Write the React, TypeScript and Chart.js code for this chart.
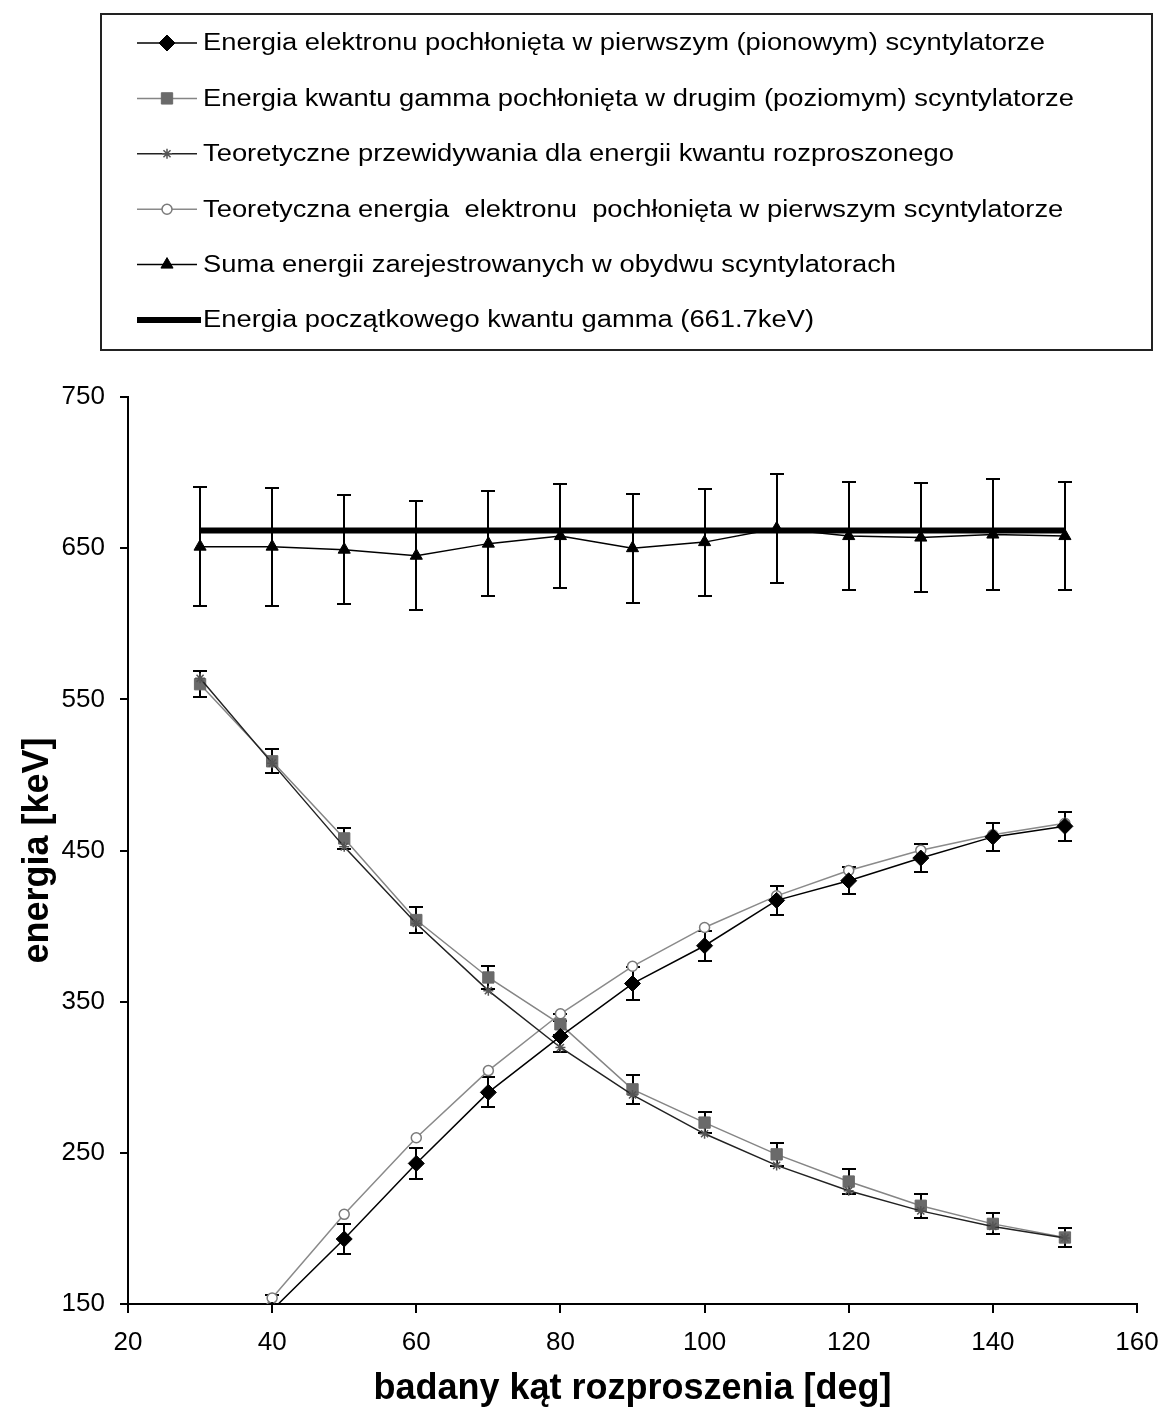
import React, { useEffect, useRef } from 'react';
import { Chart, registerables } from 'chart.js';
import { drawPoint } from 'chart.js/helpers';

Chart.register(...registerables);

// ---- data ----
const angles = [30, 40, 50, 60, 70, 80, 90, 100, 110, 120, 130, 140, 150];
const electronMeasured = [98, 146, 193, 243, 290, 327, 362, 387, 417, 430, 445, 459, 466];
const electronErr = [10, 10, 10, 10, 10, 10, 11, 10, 9.5, 9, 9.5, 9.5, 9.5];
const gammaMeasured = [560, 509, 458, 404, 366, 335, 292, 270, 249, 231, 215, 203, 194];
const gammaErr = [8.5, 8, 7, 8.5, 7.5, 7, 9.5, 7, 7.5, 8, 8, 7, 6.5];
const gammaTheory = [563.9, 507.8, 452.4, 401.7, 357.3, 319.7, 288.3, 262.6, 241.7, 224.9, 211.6, 201.3, 193.7];
const electronTheory = [97.8, 153.9, 209.3, 260.0, 304.4, 342.0, 373.4, 399.1, 420.0, 436.8, 450.1, 460.4, 468.0];
const sumMeasured = [651, 651, 649, 645, 653, 658, 650, 654, 663, 658, 657, 659, 658];
const sumErr = [39.5, 39, 36, 36, 34.6, 34.5, 36, 35.4, 36, 36, 36, 36.6, 36];
const initialEnergy = [661.7, 661.7, 661.7, 661.7, 661.7, 661.7, 661.7, 661.7, 661.7, 661.7, 661.7, 661.7, 661.7];

const legendLabels = [
  'Energia elektronu pochłonięta w pierwszym (pionowym) scyntylatorze',
  'Energia kwantu gamma pochłonięta w drugim (poziomym) scyntylatorze',
  'Teoretyczne przewidywania dla energii kwantu rozproszonego',
  'Teoretyczna energia  elektronu  pochłonięta w pierwszym scyntylatorze',
  'Suma energii zarejestrowanych w obydwu scyntylatorach',
  'Energia początkowego kwantu gamma (661.7keV)',
];
const xTitle = 'badany kąt rozproszenia [deg]';
const yTitle = 'energia [keV]';
const xMin = 20, xMax = 160, xStep = 20;
const yMin = 150, yMax = 750, yStep = 100;

const FONT = '"Liberation Sans", Arial, sans-serif';

const pts = (vals: number[]) => angles.map((a, i) => ({ x: a, y: vals[i] }));

const errorBarPlugin = {
  id: 'errorBars',
  beforeDatasetsDraw(chart: any) {
    const { ctx, chartArea, scales } = chart;
    const xs = scales.x, ys = scales.y;
    ctx.save();
    ctx.beginPath();
    ctx.rect(chartArea.left, chartArea.top, chartArea.right - chartArea.left, chartArea.bottom - chartArea.top);
    ctx.clip();
    ctx.strokeStyle = '#000';
    ctx.lineWidth = 2;
    chart.data.datasets.forEach((ds: any) => {
      const errs = ds.errorBars;
      if (!errs) return;
      ds.data.forEach((p: any, i: number) => {
        const px = Math.round(xs.getPixelForValue(p.x));
        const yt = Math.round(ys.getPixelForValue(p.y + errs[i]));
        const yb = Math.round(ys.getPixelForValue(p.y - errs[i]));
        ctx.beginPath();
        ctx.moveTo(px, yt); ctx.lineTo(px, yb);
        ctx.moveTo(px - 7, yt); ctx.lineTo(px + 7, yt);
        ctx.moveTo(px - 7, yb); ctx.lineTo(px + 7, yb);
        ctx.stroke();
      });
    });
    ctx.restore();
  },
};

const boxLegendPlugin = {
  id: 'boxLegend',
  afterDraw(chart: any) {
    const ctx = chart.ctx;
    ctx.save();
    ctx.strokeStyle = '#222';
    ctx.lineWidth = 2;
    ctx.strokeRect(101, 14, 1051, 336);
    ctx.font = `23px ${FONT}`;
    ctx.textBaseline = 'middle';
    ctx.fillStyle = '#000';
    const w0 = ctx.measureText(legendLabels[0]).width;
    const sx = 842 / w0;
    chart.data.datasets.forEach((ds: any, i: number) => {
      const cy = 43 + i * 55.4;
      ctx.beginPath();
      ctx.strokeStyle = ds.borderColor;
      ctx.lineWidth = ds.borderWidth;
      ctx.moveTo(137, cy);
      ctx.lineTo(ds.pointRadius > 0 ? 197 : 201, cy);
      ctx.stroke();
      if (ds.pointRadius > 0) {
        ctx.fillStyle = ds.pointBackgroundColor;
        ctx.strokeStyle = ds.pointBorderColor;
        ctx.lineWidth = ds.pointBorderWidth;
        drawPoint(ctx, { pointStyle: ds.pointStyle, rotation: 0, radius: ds.pointRadius, borderWidth: ds.pointBorderWidth }, 167, cy);
      }
      ctx.save();
      ctx.fillStyle = '#000';
      ctx.translate(203, cy);
      ctx.scale(sx, 1);
      ctx.fillText(legendLabels[i], 0, 1);
      ctx.restore();
    });
    ctx.restore();
  },
};

export default function App() {
  const ref = useRef<HTMLCanvasElement | null>(null);

  useEffect(() => {
    if (!ref.current) return;
    const chart = new Chart(ref.current, {
      type: 'line',
      data: {
        datasets: [
          {
            label: legendLabels[0],
            data: pts(electronMeasured),
            errorBars: electronErr,
            borderColor: '#000',
            borderWidth: 1.5,
            pointStyle: 'rectRot',
            pointRadius: 8,
            pointBackgroundColor: '#000',
            pointBorderColor: '#000',
            pointBorderWidth: 1,
            order: 1,
          } as any,
          {
            label: legendLabels[1],
            data: pts(gammaMeasured),
            errorBars: gammaErr,
            borderColor: '#858585',
            borderWidth: 1.5,
            pointStyle: 'rect',
            pointRadius: 8,
            pointBackgroundColor: '#6a6a6a',
            pointBorderColor: '#6a6a6a',
            pointBorderWidth: 1,
            order: 4,
          } as any,
          {
            label: legendLabels[2],
            data: pts(gammaTheory),
            borderColor: '#222',
            borderWidth: 1.5,
            pointStyle: 'star',
            pointRadius: 5,
            pointBackgroundColor: '#555',
            pointBorderColor: '#555',
            pointBorderWidth: 1.5,
            order: 3,
          } as any,
          {
            label: legendLabels[3],
            data: pts(electronTheory),
            borderColor: '#8a8a8a',
            borderWidth: 1.5,
            pointStyle: 'circle',
            pointRadius: 5,
            pointBackgroundColor: '#fff',
            pointBorderColor: '#7a7a7a',
            pointBorderWidth: 1.5,
            order: 5,
          } as any,
          {
            label: legendLabels[4],
            data: pts(sumMeasured),
            errorBars: sumErr,
            borderColor: '#000',
            borderWidth: 1.5,
            pointStyle: 'triangle',
            pointRadius: 7,
            pointBackgroundColor: '#000',
            pointBorderColor: '#000',
            pointBorderWidth: 1,
            order: 2,
          } as any,
          {
            label: legendLabels[5],
            data: pts(initialEnergy),
            borderColor: '#000',
            borderWidth: 6,
            pointRadius: 0,
            pointBackgroundColor: '#000',
            pointBorderColor: '#000',
            pointBorderWidth: 0,
            order: 0,
          } as any,
        ],
      },
      options: {
        responsive: false,
        animation: false,
        devicePixelRatio: 1,
        layout: { padding: { top: 397, right: 0, left: 0, bottom: 0 } },
        plugins: {
          legend: { display: false },
          tooltip: { enabled: false },
          title: { display: false },
        },
        elements: { line: { tension: 0 } },
        scales: {
          x: {
            type: 'linear',
            min: xMin,
            max: xMax,
            ticks: { stepSize: xStep, font: { family: FONT, size: 26 }, color: '#000', padding: 14, maxRotation: 0 },
            grid: { drawOnChartArea: false, drawTicks: true, tickLength: 9, color: '#000', lineWidth: 2 },
            border: { color: '#000', width: 2 },
            title: { display: true, text: xTitle, font: { family: FONT, size: 36, weight: 'bold' }, color: '#000', padding: { top: 0, bottom: 0 } },
            afterFit: (s: any) => { s.height = 107; s.paddingRight = 24; s.paddingLeft = 0; },
          },
          y: {
            type: 'linear',
            min: yMin,
            max: yMax,
            ticks: { stepSize: yStep, font: { family: FONT, size: 26 }, color: '#000', padding: 15 },
            grid: { drawOnChartArea: false, drawTicks: true, tickLength: 8, color: '#000', lineWidth: 2 },
            border: { color: '#000', width: 2 },
            title: { display: true, text: yTitle, font: { family: FONT, size: 36, weight: 'bold' }, color: '#000', padding: { top: 16, bottom: 0 } },
            afterFit: (s: any) => { s.width = 128; s.paddingTop = 0; s.paddingBottom = 0; },
          },
        },
      } as any,
      plugins: [errorBarPlugin, boxLegendPlugin],
    });
    return () => chart.destroy();
  }, []);

  return (
    <div style={{ position: 'absolute', left: 0, top: 0, width: 1161, height: 1411, background: '#fff' }}>
      <canvas ref={ref} width={1161} height={1411} style={{ display: 'block', width: 1161, height: 1411 }} />
    </div>
  );
}
